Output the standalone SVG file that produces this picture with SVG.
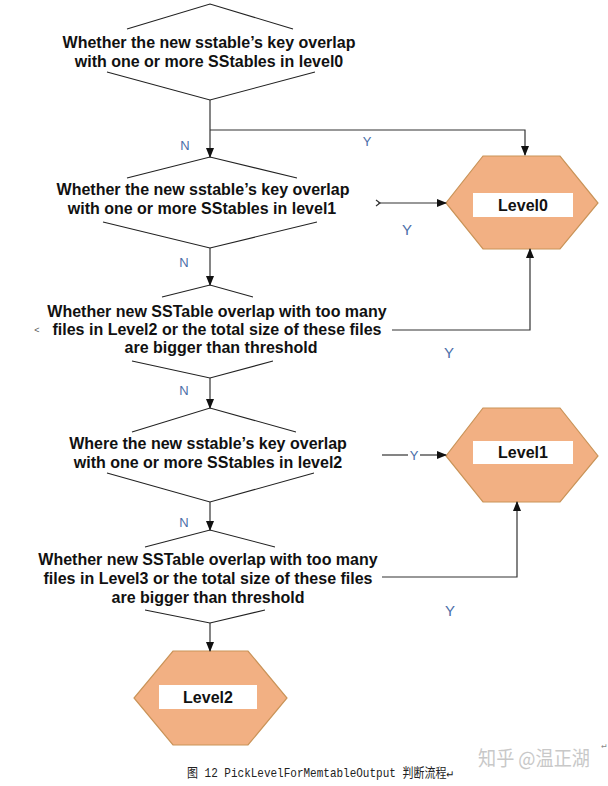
<svg xmlns="http://www.w3.org/2000/svg" width="608" height="786" viewBox="0 0 608 786">
<defs>
<marker id="ah" markerWidth="10" markerHeight="10" refX="9" refY="5" orient="auto" markerUnits="userSpaceOnUse">
<path d="M0,1 L10,5 L0,9 Z" fill="#111"/>
</marker>
<style>
.dia{fill:none;stroke:#222;stroke-width:1.1}
.q{font-family:"Liberation Sans",Arial,sans-serif;font-weight:bold;font-size:16px;fill:#111;text-anchor:middle}
.lbl{font-family:"Liberation Sans",Arial,sans-serif;font-size:13px;fill:#4a6ea8;text-anchor:middle}
.lblb{font-family:"Liberation Sans",Arial,sans-serif;font-size:15px;fill:#4a6ea8;text-anchor:middle}
.hex{fill:#f2b083;stroke:#c99358;stroke-width:1.2}
.box{fill:#fff}
.lv{font-family:"Liberation Sans",Arial,sans-serif;font-weight:bold;font-size:16px;fill:#111;text-anchor:middle}
.con{fill:none;stroke:#333;stroke-width:1.2}
</style>
</defs>
<rect width="608" height="786" fill="#fff"/>

<g id="d1">
<polyline class="dia" points="127,29 210,4 293,29"/>
<polyline class="dia" points="107,72 210,100 315,72"/>
<text class="q" x="209" y="48">Whether the new sstable’s key overlap</text>
<text class="q" x="209" y="67">with one or more SStables in level0</text>
</g>

<g id="d2">
<polyline class="dia" points="127,178 210,157 297,178"/>
<polyline class="dia" points="103,222 210,248 317,222"/>
<text class="q" x="203" y="195">Whether the new sstable’s key overlap</text>
<text class="q" x="202" y="214">with one or more SStables in level1</text>
</g>

<g id="d3">
<polyline class="dia" points="162,297 210,285 253,297"/>
<polyline class="dia" points="132,361 210,378 273,361"/>
<text class="q" x="217" y="317">Whether new SSTable overlap with too many</text>
<text class="q" x="217" y="335">files in Level2 or the total size of these files</text>
<text class="q" x="221" y="353">are bigger than threshold</text>
</g>

<g id="d4">
<polyline class="dia" points="132,432 210,408 296,432"/>
<polyline class="dia" points="107,473 210,502 314,473"/>
<text class="q" x="208" y="449">Where the new sstable’s key overlap</text>
<text class="q" x="208" y="468">with one or more SStables in level2</text>
</g>

<g id="d5">
<polyline class="dia" points="145,547 210,530 275,547"/>
<polyline class="dia" points="145,610 210,623 265,610"/>
<text class="q" x="208" y="565">Whether new SSTable overlap with too many</text>
<text class="q" x="208" y="584">files in Level3 or the total size of these files</text>
<text class="q" x="208" y="603">are bigger than threshold</text>
</g>

<g id="level0">
<polygon class="hex" points="483,156 560,156 598,203 560,249 483,249 446,203"/>
<rect class="box" x="473" y="193" width="100" height="24"/>
<text class="lv" x="523" y="211">Level0</text>
</g>

<g id="level1">
<polygon class="hex" points="483,408 560,408 598,456 560,502 483,502 446,456"/>
<rect class="box" x="473" y="441" width="100" height="23"/>
<text class="lv" x="523" y="458">Level1</text>
</g>

<g id="level2">
<polygon class="hex" points="173,651 248,651 287,698 248,745 173,745 134,698"/>
<rect class="box" x="159" y="685" width="98" height="24"/>
<text class="lv" x="208" y="703">Level2</text>
</g>

<g id="connectors">
<line class="con" x1="210" y1="100" x2="210" y2="157" marker-end="url(#ah)"/>
<polyline class="con" points="210,130 525,130 525,155" marker-end="url(#ah)"/>
<line class="con" x1="210" y1="248" x2="210" y2="285" marker-end="url(#ah)"/>
<line class="con" x1="378" y1="203" x2="446" y2="203" marker-end="url(#ah)"/>
<path class="con" d="M376,200 L380,203 L376,206" stroke-width="0.8"/>
<polyline class="con" points="392,330 530,330 530,249" marker-end="url(#ah)"/>
<line class="con" x1="210" y1="378" x2="210" y2="408" marker-end="url(#ah)"/>
<line class="con" x1="382" y1="455" x2="408" y2="455"/>
<line class="con" x1="420" y1="455" x2="446" y2="455" marker-end="url(#ah)"/>
<line class="con" x1="210" y1="502" x2="210" y2="530" marker-end="url(#ah)"/>
<polyline class="con" points="382,577 517,577 517,502" marker-end="url(#ah)"/>
<line class="con" x1="210" y1="623" x2="210" y2="651" marker-end="url(#ah)"/>
<text class="lbl" x="185" y="150">N</text>
<text class="lbl" x="367" y="146">Y</text>
<text class="lblb" x="407" y="235">Y</text>
<text class="lbl" x="184" y="267">N</text>
<text class="lblb" x="449" y="358">Y</text>
<text class="lbl" x="184" y="395">N</text>
<text class="lbl" x="414" y="460">Y</text>
<text class="lbl" x="184" y="527">N</text>
<text class="lblb" x="450" y="616">Y</text>
</g>

<text x="37" y="333" font-family="Liberation Sans, sans-serif" font-size="9" fill="#555" text-anchor="middle">&lt;</text>
<text x="187" y="777" font-family="Liberation Mono, 'Noto Sans CJK SC', monospace" font-size="13" fill="#222" textLength="266" lengthAdjust="spacingAndGlyphs">图 12 PickLevelForMemtableOutput 判断流程↵</text>
<text x="478" y="766" font-family="'Noto Sans CJK SC', sans-serif" font-size="20" fill="#c8c8c8" textLength="112" lengthAdjust="spacingAndGlyphs">知乎 @温正湖</text>
<text x="604" y="748" font-family="Liberation Mono, monospace" font-size="9" fill="#888" text-anchor="middle">↵</text>
</svg>
